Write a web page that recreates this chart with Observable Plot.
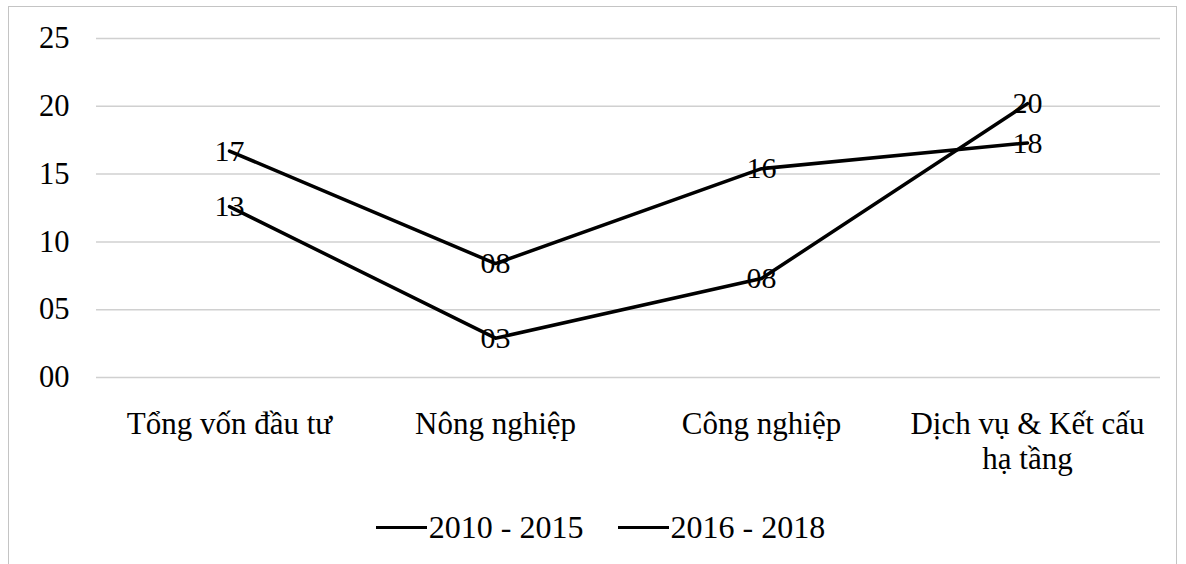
<!DOCTYPE html>
<html><head><meta charset="utf-8">
<script src="https://cdn.jsdelivr.net/npm/d3@7"></script>
<script src="https://cdn.jsdelivr.net/npm/@observablehq/plot@0.6"></script>
<style>
body{margin:0;background:#fff;font-family:"Liberation Serif","Times New Roman",serif;}
#frame{position:absolute;left:8px;top:6px;width:1169px;height:620px;border:1.5px solid #c4c4c4;border-bottom:none;box-sizing:border-box;}
#chart{position:absolute;left:0;top:0;}
#legend{position:absolute;left:0;top:500px;height:40px;width:1169px;display:flex;justify-content:center;align-items:center;gap:34px;font-size:32px;color:#000;padding-left:14px;box-sizing:border-box;}
.item{display:flex;align-items:center;}
.sw{width:51px;height:0;border-top:3.5px solid #000;margin-right:2px;}
</style></head><body>
<div id="frame"><div id="chart"></div><div id="legend"></div></div>
<script>
const categories = ["Tổng vốn đầu tư", "Nông nghiệp", "Công nghiệp", "Dịch vụ & Kết cấu\nhạ tầng"];
const seriesNames = ["2010 - 2015", "2016 - 2018"];
const values2010_2015 = [16.7, 8.4, 15.4, 17.3];
const values2016_2018 = [12.6, 2.9, 7.3, 20.2];
const labels2010_2015 = ["17", "08", "16", "18"];
const labels2016_2018 = ["13", "03", "08", "20"];
const yTicks = [0, 5, 10, 15, 20, 25];

const rows = [];
[[values2010_2015, labels2010_2015], [values2016_2018, labels2016_2018]].forEach(([vals, labs], s) => {
  vals.forEach((v, i) => rows.push({series: seriesNames[s], category: categories[i], value: v, label: labs[i]}));
});

const chart = Plot.plot({
  width: 1166,
  height: 495,
  marginLeft: 87,
  marginRight: 15,
  marginTop: 31,
  marginBottom: 125,
  style: {fontFamily: "'Liberation Serif', serif", fontSize: "30px", color: "#000", background: "transparent"},
  x: {type: "point", domain: categories, padding: 0.5, label: null},
  y: {domain: [0, 25], ticks: yTicks, label: null},
  marks: [
    Plot.gridY(yTicks, {stroke: "#d0d0d0", strokeOpacity: 1, strokeWidth: 1.5}),
    Plot.axisY({ticks: yTicks, tickSize: 0, tickPadding: 27, tickFormat: d3.format("02d"), fontSize: 30.5, label: null}),
    Plot.axisX({tickSize: 0, tickPadding: 32, fontSize: 31, label: null, lineHeight: 1.13}),
    Plot.line(rows, {x: "category", y: "value", z: "series", stroke: "#000", strokeWidth: 3.5}),
    Plot.text(rows, {x: "category", y: "value", text: "label", fontSize: 30, fill: "#000"})
  ]
});
document.getElementById("chart").appendChild(chart);

const legend = document.getElementById("legend");
seriesNames.forEach(n => {
  const it = document.createElement("div");
  it.className = "item";
  it.innerHTML = `<div class="sw"></div><span>${n}</span>`;
  legend.appendChild(it);
});
</script>
</body></html>
